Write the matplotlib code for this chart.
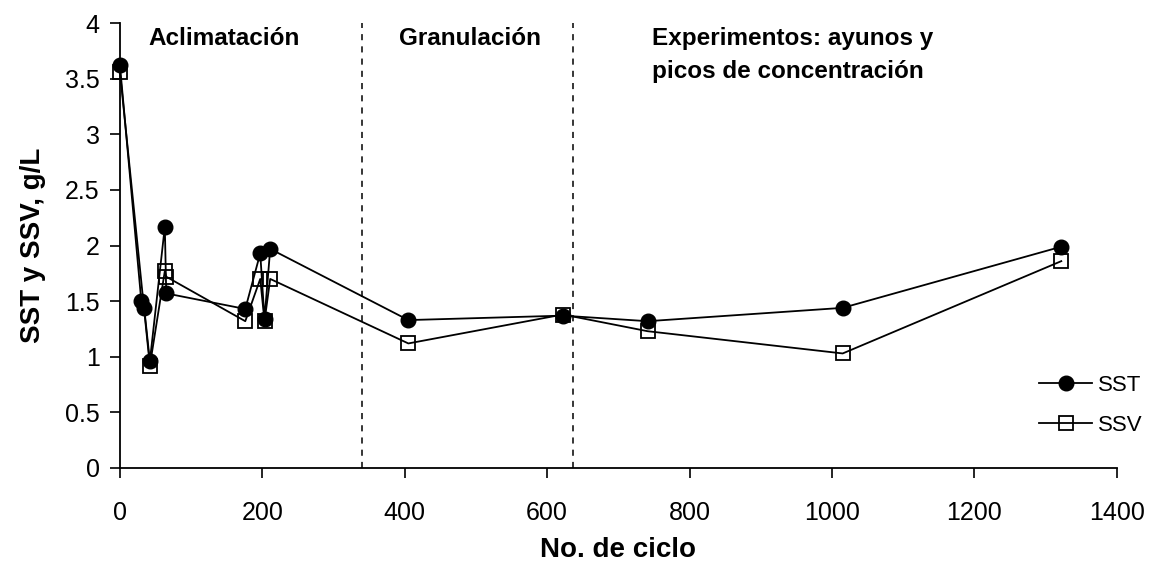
import numpy as np
import matplotlib.pyplot as plt

plt.rcParams['font.family'] = ['Liberation Sans', 'DejaVu Sans']

# SST data
ciclo_sst = [0, 30, 34, 42, 63, 65, 176, 197, 203, 211, 405, 622, 741, 1015, 1322]
sst = [3.62, 1.50, 1.44, 0.96, 2.17, 1.57, 1.43, 1.93, 1.34, 1.97, 1.33, 1.37, 1.32, 1.44, 1.99]

# SSV data
ciclo_ssv = [0, 42, 63, 65, 176, 197, 203, 211, 405, 622, 741, 1015, 1322]
ssv = [3.56, 0.92, 1.77, 1.72, 1.32, 1.70, 1.32, 1.70, 1.12, 1.38, 1.23, 1.03, 1.86]

limites = [340, 636]
# stage labels (one entry per text line)
etapas = ['Aclimatación', 'Granulación', 'Experimentos: ayunos y', 'picos de concentración']
pos_x = [40, 392, 747, 747]
pos_y = [3.80, 3.80, 3.80, 3.51]

fig = plt.figure(figsize=(11.49, 5.65), dpi=100)
ax = fig.add_axes([0.1044, 0.1717, 0.8676, 0.7873])

ax.plot(ciclo_sst, sst, color='black', lw=1.3, marker='o', ms=10.5,
        mfc='black', mec='black', label='SST', zorder=3, clip_on=False)
ax.plot(ciclo_ssv, ssv, color='black', lw=1.3, marker='s', ms=9.5,
        mfc='none', mec='black', mew=1.3, label='SSV', zorder=3, clip_on=False)

for xl in limites:
    ax.axvline(xl, color='black', ls=(0, (4, 4)), lw=1.1)

for xt, yt, txt in zip(pos_x, pos_y, etapas):
    ax.text(xt, yt, txt, fontsize=17.5, fontweight='bold', ha='left', va='baseline')

ax.set_xlim(0, 1400)
ax.set_ylim(0, 4)
ax.set_xticks(np.arange(0, 1401, 200))
ax.set_yticks(np.arange(0, 4.01, 0.5))
ax.set_yticklabels(['0', '0.5', '1', '1.5', '2', '2.5', '3', '3.5', '4'])
ax.tick_params(axis='both', labelsize=18, direction='out', length=7.5, width=1.2, colors='black')
ax.tick_params(axis='x', pad=16)
ax.tick_params(axis='y', pad=7)
ax.spines['top'].set_visible(False)
ax.spines['right'].set_visible(False)
ax.spines['left'].set_linewidth(1.3)
ax.spines['bottom'].set_linewidth(1.3)

ax.set_xlabel('No. de ciclo', fontsize=20, fontweight='bold', labelpad=9)
ax.set_ylabel('SST y SSV, g/L', fontsize=20, fontweight='bold', labelpad=14)

ax.legend(loc='upper left', bbox_to_anchor=(1039 / 1149, 1 - 375 / 565),
          bbox_transform=fig.transFigure, frameon=False, fontsize=16,
          handlelength=2.4, labelspacing=0.85, handletextpad=0.25,
          borderpad=0, borderaxespad=0)

fig.savefig('out.png', dpi=100)
